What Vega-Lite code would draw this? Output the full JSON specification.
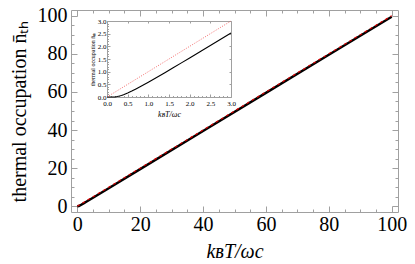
{
  "$schema": "https://vega.github.io/schema/vega-lite/v6.json",
  "width": 327,
  "height": 202,
  "autosize": "none",
  "padding": {"left": 71, "top": 10, "right": 17, "bottom": 52},
  "background": "white",
  "config": {
    "view": {"stroke": null},
    "font": "Liberation Serif",
    "axis": {
      "labelFont": "Liberation Serif",
      "titleFont": "Liberation Serif",
      "titleFontWeight": "normal",
      "labelColor": "black",
      "titleColor": "black",
      "domainColor": "#a0a0a0",
      "tickColor": "#a0a0a0",
      "grid": false,
      "labelFlush": false,
      "labelOverlap": false,
      "labelBound": false
    }
  },
  "datasets": {
    "main": [
      {"T": 0, "n": 0, "cl": 0},
      {"T": 0.5, "n": 0.157, "cl": 0.5},
      {"T": 1, "n": 0.582, "cl": 1},
      {"T": 2, "n": 1.542, "cl": 2},
      {"T": 3, "n": 2.528, "cl": 3},
      {"T": 5, "n": 4.517, "cl": 5},
      {"T": 10, "n": 9.508, "cl": 10},
      {"T": 20, "n": 19.504, "cl": 20},
      {"T": 40, "n": 39.502, "cl": 40},
      {"T": 60, "n": 59.501, "cl": 60},
      {"T": 80, "n": 79.501, "cl": 80},
      {"T": 100, "n": 99.5, "cl": 100}
    ],
    "inset": [
      {"T": 0, "n": 0, "cl": 0},
      {"T": 0.1, "n": 0.00005, "cl": 0.1},
      {"T": 0.15, "n": 0.00127, "cl": 0.15},
      {"T": 0.2, "n": 0.0068, "cl": 0.2},
      {"T": 0.25, "n": 0.0187, "cl": 0.25},
      {"T": 0.3, "n": 0.037, "cl": 0.3},
      {"T": 0.35, "n": 0.0609, "cl": 0.35},
      {"T": 0.4, "n": 0.0894, "cl": 0.4},
      {"T": 0.5, "n": 0.1565, "cl": 0.5},
      {"T": 0.6, "n": 0.2329, "cl": 0.6},
      {"T": 0.7, "n": 0.3152, "cl": 0.7},
      {"T": 0.8, "n": 0.4016, "cl": 0.8},
      {"T": 0.9, "n": 0.4907, "cl": 0.9},
      {"T": 1.0, "n": 0.582, "cl": 1.0},
      {"T": 1.2, "n": 0.7686, "cl": 1.2},
      {"T": 1.4, "n": 0.959, "cl": 1.4},
      {"T": 1.6, "n": 1.152, "cl": 1.6},
      {"T": 1.8, "n": 1.346, "cl": 1.8},
      {"T": 2.0, "n": 1.5415, "cl": 2.0},
      {"T": 2.25, "n": 1.787, "cl": 2.25},
      {"T": 2.5, "n": 2.033, "cl": 2.5},
      {"T": 2.75, "n": 2.28, "cl": 2.75},
      {"T": 3.0, "n": 2.528, "cl": 3.0}
    ]
  },
  "layer": [
    {
      "data": {"name": "main"},
      "layer": [
        {
          "mark": {"type": "line", "color": "black", "strokeWidth": 2.4},
          "encoding": {
            "x": {
              "field": "T", "type": "quantitative",
              "scale": {"domain": [-2, 102], "nice": false, "zero": false},
              "axis": {
                "orient": "bottom",
                "values": [0,5,10,15,20,25,30,35,40,45,50,55,60,65,70,75,80,85,90,95,100],
                "labelExpr": "datum.value % 20 === 0 ? datum.label : ''",
                "tickSize": {"condition": {"test": "datum.value % 20 === 0", "value": -6}, "value": -3},
                "labelPadding": 8,
                "labelFont": "Liberation Serif",
                "labelFontSize": 20,
                "title": "kʙT/ωc",
                "titleFont": "Liberation Serif",
                "titleFontStyle": "italic",
                "titleFontSize": 20,
                "titlePadding": 4
              }
            },
            "y": {
              "field": "n", "type": "quantitative",
              "scale": {"domain": [-3, 103], "nice": false, "zero": false},
              "axis": {
                "orient": "left",
                "values": [0,5,10,15,20,25,30,35,40,45,50,55,60,65,70,75,80,85,90,95,100],
                "labelExpr": "datum.value % 20 === 0 ? datum.label : ''",
                "tickSize": {"condition": {"test": "datum.value % 20 === 0", "value": -6}, "value": -3},
                "labelPadding": 10,
                "labelFont": "Liberation Serif",
                "labelFontSize": 20,
                "title": "thermal occupation n̄ₜₕ",
                "titleFont": "Liberation Serif",
                "titleFontSize": 20,
                "titlePadding": 8
              }
            }
          }
        },
        {
          "mark": {"type": "line", "color": "#d40000", "strokeWidth": 1.2, "strokeDash": [3, 3]},
          "encoding": {
            "x": {
              "field": "T", "type": "quantitative",
              "axis": {
                "orient": "top",
                "values": [0,5,10,15,20,25,30,35,40,45,50,55,60,65,70,75,80,85,90,95,100],
                "labels": false,
                "tickSize": {"condition": {"test": "datum.value % 20 === 0", "value": -6}, "value": -3},
                "title": null
              }
            },
            "y": {
              "field": "cl", "type": "quantitative",
              "axis": {
                "orient": "right",
                "values": [0,5,10,15,20,25,30,35,40,45,50,55,60,65,70,75,80,85,90,95,100],
                "labels": false,
                "tickSize": {"condition": {"test": "datum.value % 20 === 0", "value": -6}, "value": -3},
                "title": null
              }
            }
          }
        }
      ],
      "resolve": {"axis": {"x": "independent", "y": "independent"}}
    },
    {
      "data": {"name": "inset"},
      "layer": [
        {
          "mark": {"type": "line", "color": "black", "strokeWidth": 1.1},
          "encoding": {
            "x": {
              "field": "T", "type": "quantitative",
              "scale": {"domain": [0, 3], "range": [36, 160], "nice": false, "zero": false},
              "axis": {
                "orient": "bottom",
                "offset": -115,
                "values": [0,0.1,0.2,0.3,0.4,0.5,0.6,0.7,0.8,0.9,1,1.1,1.2,1.3,1.4,1.5,1.6,1.7,1.8,1.9,2,2.1,2.2,2.3,2.4,2.5,2.6,2.7,2.8,2.9,3],
                "labelExpr": "abs(datum.value*2 - round(datum.value*2)) < 0.001 ? format(datum.value, '.1f') : ''",
                "tickSize": {"condition": {"test": "abs(datum.value*2 - round(datum.value*2)) < 0.001", "value": -3}, "value": -1.5},
                "labelPadding": 5,
                "labelFont": "Liberation Serif",
                "labelFontSize": 7,
                "title": "kʙT/ωc",
                "titleFont": "Liberation Serif",
                "titleFontStyle": "italic",
                "titleFontSize": 8,
                "titlePadding": 3
              }
            },
            "y": {
              "field": "n", "type": "quantitative",
              "scale": {"domain": [0, 3], "range": [87, 11], "nice": false, "zero": false},
              "axis": {
                "orient": "left",
                "offset": -36,
                "values": [0,0.1,0.2,0.3,0.4,0.5,0.6,0.7,0.8,0.9,1,1.1,1.2,1.3,1.4,1.5,1.6,1.7,1.8,1.9,2,2.1,2.2,2.3,2.4,2.5,2.6,2.7,2.8,2.9,3],
                "labelExpr": "abs(datum.value*2 - round(datum.value*2)) < 0.001 ? format(datum.value, '.1f') : ''",
                "tickSize": {"condition": {"test": "abs(datum.value*2 - round(datum.value*2)) < 0.001", "value": -3}, "value": -1.5},
                "labelPadding": 4,
                "labelFont": "Liberation Serif",
                "labelFontSize": 7,
                "title": "thermal occupation n̄ₜₕ",
                "titleFont": "Liberation Serif",
                "titleFontSize": 6,
                "titlePadding": 2
              }
            }
          }
        },
        {
          "mark": {"type": "line", "color": "#f04848", "strokeWidth": 0.8, "strokeDash": [1, 1.5]},
          "encoding": {
            "x": {
              "field": "T", "type": "quantitative",
              "axis": {
                "orient": "top",
                "offset": -11,
                "values": [0,0.5,1,1.5,2,2.5,3],
                "labels": false,
                "tickSize": -2,
                "title": null
              }
            },
            "y": {
              "field": "cl", "type": "quantitative",
              "axis": {
                "orient": "right",
                "offset": -167,
                "values": [0,0.5,1,1.5,2,2.5,3],
                "labels": false,
                "tickSize": -2,
                "title": null
              }
            }
          }
        }
      ],
      "resolve": {"axis": {"x": "independent", "y": "independent"}}
    }
  ],
  "resolve": {
    "scale": {"x": "independent", "y": "independent"},
    "axis": {"x": "independent", "y": "independent"}
  }
}
